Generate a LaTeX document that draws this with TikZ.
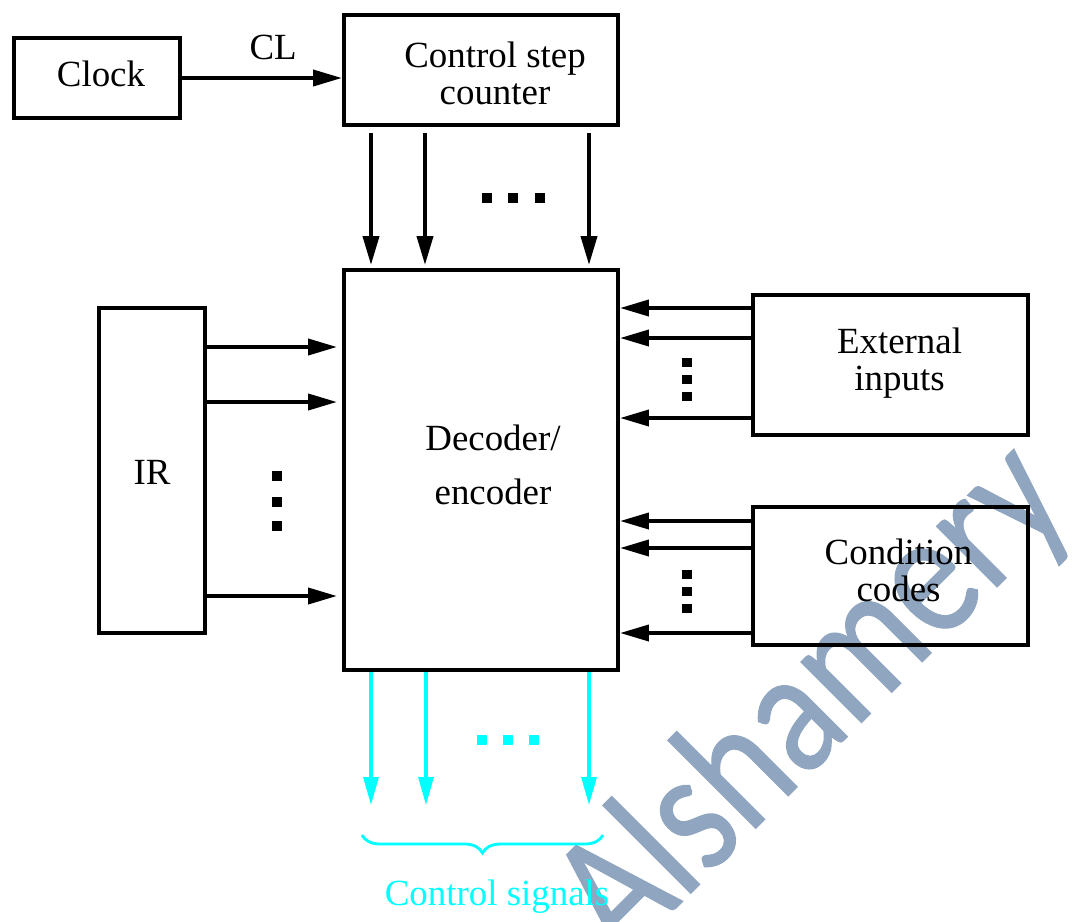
\documentclass[tikz,border=0pt]{standalone}
\usepackage{fontspec}
\setmainfont{Liberation Serif}
\newfontfamily\wmfont[FakeStretch=0.83, FakeBold=0.6]{Carlito}
\usepackage{tikz}
\usetikzlibrary{arrows.meta, positioning, calc, decorations.pathreplacing}
\definecolor{mydark}{RGB}{0,0,0}
\definecolor{sigcyan}{RGB}{0,255,255}
\definecolor{wmblue}{RGB}{143,165,192}
\tikzset{
  block/.style={rectangle, draw=mydark, line width=2.3pt},
  lbl/.style={align=center, inner sep=2pt, font=\fontsize{21}{21}\selectfont},
  arrow/.style={-{Triangle[length=0.58cm, width=0.32cm]}, line width=2.2pt, color=mydark},
  sigarrow/.style={-{Triangle[length=0.56cm, width=0.3cm]}, line width=1.8pt, color=sigcyan},
  dot/.style={fill=mydark}
}

\begin{document}
\begin{tikzpicture}[x=0.02cm, y=-0.02cm]
  \useasboundingbox (0,0) rectangle (1073,921);

  % Watermark
  \node[font=\wmfont\fontsize{102}{102}\selectfont, text=wmblue, anchor=base west,
    inner sep=0pt, rotate=45] (wm) at (622,962) {Alshamery};

  % Blocks
  \node[block, minimum width=3.32cm, minimum height=1.6cm] (clock) at (97,78) {};
  \node[block, minimum width=5.48cm, minimum height=2.2cm] (counter) at (481,70) {};
  \node[block, minimum width=5.48cm, minimum height=8cm] (dec) at (481,470) {};
  \node[block, minimum width=2.12cm, minimum height=6.5cm] (ir) at (152,470.5) {};
  \node[block, minimum width=5.5cm, minimum height=2.8cm] (ext) at (890.5,365) {};
  \node[block, minimum width=5.5cm, minimum height=2.76cm] (cond) at (890.5,576) {};

  % Block texts
  \node[lbl] (clock-t) at ($(clock)+(4,-4)$) {Clock};
  \node[lbl] (counter-t) at ($(counter)+(14,3)$) {Control step\\counter};
  \node[lbl] (dec-t) at ($(dec)+(12,-5)$) {Decoder/\\[10pt]encoder};
  \node[lbl] (ir-t) at ($(ir)+(0,2)$) {IR};
  \node[lbl] (ext-t) at ($(ext)+(9,-2)$) {External\\inputs};
  \node[lbl] (cond-t) at ($(cond)+(8,-6)$) {Condition\\codes};

  % Connections
  \draw[arrow] (clock.east) -- node[pos=0.57, above=7pt, lbl] {CL} (counter.west |- clock.east);
  \foreach \x in {371,425,589}
    \draw[arrow, shorten <=0.12cm, shorten >=0.06cm] (counter.south -| \x,0) -- (dec.north -| \x,0);
  \foreach \y in {347,402,596}
    \draw[arrow, shorten >=0.1cm] (ir.east |- 0,\y) -- (dec.west |- 0,\y);
  \foreach \y in {308,338,418}
    \draw[arrow] (ext.west |- 0,\y) -- (dec.east |- 0,\y);
  \foreach \y in {521,548,633}
    \draw[arrow] (cond.west |- 0,\y) -- (dec.east |- 0,\y);

  % Control signals
  \coordinate (sigend) at (0,805);
  \foreach \x in {371,426,589}
    \draw[sigarrow] (dec.south -| \x,0) -- (sigend -| \x,0);
  \coordinate (bl) at (362,835);
  \coordinate (br) at (603,835);
  \draw[sigcyan, line width=1.6pt, decorate, decoration={brace, mirror, amplitude=0.36cm}] (bl) -- (br);
  \node[lbl, text=sigcyan] (sig) at (497,897) {Control signals};

  % Dots
  \foreach \x in {487,513,540}
    \fill[dot] (\x-5,193) rectangle (\x+5,203);
  \foreach \x in {482,508,534}
    \fill[sigcyan] (\x-5,735) rectangle (\x+5,745);
  \foreach \y in {476,502,526}
    \fill[dot] (272,\y-5) rectangle (282,\y+5);
  \foreach \y in {363,380,397}
    \fill[dot] (682,\y-5) rectangle (692,\y+4);
  \foreach \y in {575,592,609}
    \fill[dot] (682,\y-5) rectangle (692,\y+4);
\end{tikzpicture}
\end{document}
